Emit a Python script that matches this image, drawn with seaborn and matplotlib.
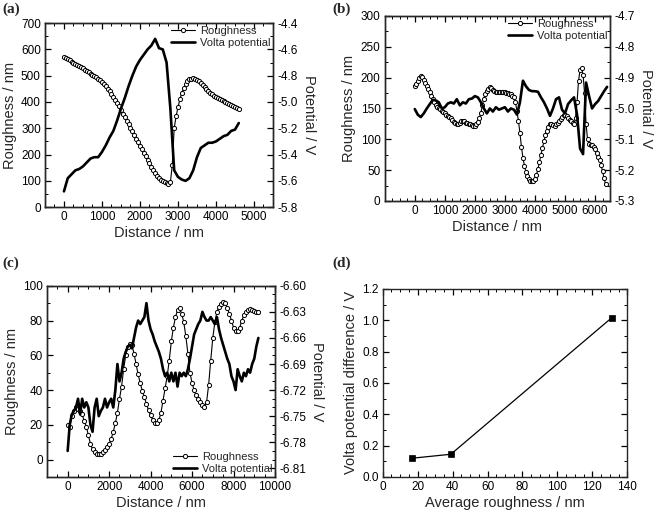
import numpy as np
import pandas as pd
import seaborn as sns
import matplotlib.pyplot as plt
from matplotlib.lines import Line2D
from matplotlib.ticker import MultipleLocator, FormatStrFormatter

# ---- (a) roughness every 50 nm, Volta potential every 100 nm
rough_a = [570, 566, 562, 558, 554, 550, 546, 541, 537, 532,
           528, 523, 518, 513, 508, 504, 499, 494, 488, 482,
           475, 468, 460, 451, 441, 431, 420, 408, 396, 383,
           369, 356, 342, 329, 315, 302, 288, 275, 261, 248,
           234, 221, 207, 194, 180, 167, 154, 141, 130, 120,
           112, 105, 99, 94, 90, 88, 94,
           160, 300, 345, 380, 410, 433, 452, 467, 478, 486,
           489, 490, 488, 484, 478, 471, 464, 456, 448, 441,
           435, 429, 424, 419, 414, 410, 406, 402, 399, 396,
           393, 390, 386, 382, 378, 374]
volta_a = [-5.68, -5.58, -5.55, -5.52, -5.51, -5.49, -5.46, -5.43, -5.42, -5.42,
           -5.38, -5.33, -5.27, -5.22, -5.14, -5.05, -4.97, -4.88, -4.80, -4.73,
           -4.68, -4.64, -4.60, -4.57, -4.52, -4.59, -4.60, -4.70, -5.05, -5.52,
           -5.57, -5.59, -5.60, -5.58, -5.52, -5.42, -5.35, -5.33, -5.31, -5.31,
           -5.30, -5.28, -5.26, -5.25, -5.22, -5.21, -5.16]

# ---- (b)
rough_b = [186, 190, 195, 200, 203, 201, 196, 191, 186, 181,
           176, 171, 166, 160, 156, 153, 151, 149, 146, 144,
           142, 140, 138, 136, 134, 131, 128, 126, 125, 125,
           127, 129, 130, 129, 127, 126, 125, 124, 123, 122,
           122, 124, 128, 134, 143, 155, 166, 174, 179, 182,
           184, 183, 180, 178, 177, 177, 177, 176, 176, 177,
           176, 175, 175, 174, 173, 171, 168, 160, 146, 130,
           110, 88, 70, 57, 47, 40, 35, 33, 32, 33,
           36, 42, 52, 63, 75, 86, 97, 107, 114, 120,
           124, 125, 123, 122, 124, 127, 130, 133, 136, 139,
           140, 138, 135, 132, 129, 126, 124, 135, 160, 195,
           212, 216, 205, 175, 125, 100, 92, 91, 90, 88,
           84, 78, 72, 66, 58, 48, 37, 27]
volta_b = [-5.002, -5.020, -5.028, -5.016, -5.000, -4.986, -4.972, -4.974, -4.980, -5.000,
           -4.996, -4.984, -4.980, -4.984, -4.970, -4.990, -4.980, -4.984, -4.970, -4.968,
           -4.960, -4.964, -4.980, -5.000, -5.016, -5.000, -5.010, -4.996, -5.004, -5.000,
           -4.996, -5.010, -5.000, -5.004, -5.020, -4.980, -4.910, -4.928, -4.940, -4.944,
           -4.944, -4.946, -4.964, -4.980, -5.000, -5.024, -5.000, -4.970, -4.964, -5.004,
           -5.016, -4.986, -4.974, -4.964, -5.020, -5.130, -5.148, -4.916, -4.960, -5.000,
           -4.986, -4.976, -4.960, -4.944, -4.930]

# ---- (c) both every 100 nm
rough_c = [20, 19, 25, 28, 30, 29, 28, 26, 22, 19,
           14, 9, 6, 4.5, 3.5, 3, 3.5, 4.5, 5.5, 7,
           9, 12, 16, 21, 27, 35, 42, 52, 60, 65,
           66.5, 66, 61, 55, 49, 44, 39.5, 36, 32, 28.5,
           25.5, 23, 21, 21, 22.5, 27, 34, 41, 48, 57,
           68, 76, 82, 86, 87, 84, 79, 71, 61, 50,
           44, 40, 37, 35, 33, 31.5, 30.5, 33, 43, 57,
           70, 79, 85, 88, 89.5, 90.5, 90, 87, 84, 80,
           76, 74, 74, 76, 80, 83, 85, 86, 86.5, 86,
           85.5, 85, 85]
volta_c = [-6.790, -6.760, -6.748, -6.744, -6.740, -6.730, -6.748, -6.730, -6.740, -6.734,
           -6.740, -6.760, -6.768, -6.740, -6.730, -6.750, -6.744, -6.740, -6.730, -6.740,
           -6.734, -6.730, -6.740, -6.720, -6.690, -6.710, -6.700, -6.684, -6.676, -6.670,
           -6.668, -6.672, -6.660, -6.648, -6.640, -6.644, -6.640, -6.636, -6.620, -6.640,
           -6.650, -6.656, -6.664, -6.670, -6.676, -6.684, -6.696, -6.704, -6.700, -6.710,
           -6.700, -6.710, -6.700, -6.716, -6.700, -6.704, -6.700, -6.704, -6.696, -6.684,
           -6.670, -6.656, -6.650, -6.644, -6.640, -6.630, -6.636, -6.640, -6.640, -6.636,
           -6.640, -6.644, -6.636, -6.650, -6.660, -6.668, -6.676, -6.684, -6.690, -6.704,
           -6.710, -6.720, -6.696, -6.704, -6.710, -6.700, -6.704, -6.696, -6.700, -6.690,
           -6.684, -6.670, -6.660]

# ---- (d)
avg_rough = [17, 39, 131]
volta_diff = [0.12, 0.145, 1.015]

sns.set_theme(style="ticks")
plt.rcParams['font.family'] = ['Liberation Sans', 'DejaVu Sans']
plt.rcParams['axes.unicode_minus'] = False
plt.rcParams['axes.linewidth'] = 1.0

fig = plt.figure(figsize=(6.61, 5.14), dpi=100)

LAB = 10.5
TICK = 8.5
MS = 3.0


def rough_line(ax, x, y):
    sns.lineplot(x=x, y=y, ax=ax, sort=False, color='black', linewidth=0.8,
                 marker='o', markersize=MS, markerfacecolor='white',
                 markeredgecolor='black', markeredgewidth=0.7)


def volta_line(ax, x, y):
    sns.lineplot(x=x, y=y, ax=ax, sort=False, color='black', linewidth=1.9)


def ticks(ax, right=False, top=True):
    ax.tick_params(which='both', direction='in', top=top, right=right,
                   labelsize=TICK, pad=3, colors='black')
    ax.tick_params(which='major', length=4, width=0.9)
    ax.tick_params(which='minor', length=2, width=0.7)


def legend(ax, loc):
    handles = [Line2D([], [], color='black', lw=0.8, marker='o', ms=MS,
                      mfc='white', mec='black', mew=0.7),
               Line2D([], [], color='black', lw=1.9)]
    ax.legend(handles, ['Roughness', 'Volta potential'], loc=loc, frameon=False,
              fontsize=8, handlelength=2.2, handletextpad=0.4, labelspacing=0.2,
              borderaxespad=0.15, borderpad=0.1, numpoints=1)


def panel(rect, rough, rstep, volta, vstep, xlim, xticks, xmin,
          ylim, ymaj, ymin, vlim, vmaj, vmin, vfmt, legloc):
    ax = fig.add_axes(rect)
    tw = ax.twinx()
    rough_line(ax, np.arange(len(rough)) * rstep, rough)
    volta_line(tw, np.arange(len(volta)) * vstep, volta)
    ax.set_xticks(xticks)
    ax.xaxis.set_minor_locator(MultipleLocator(xmin))
    ax.set_xlim(*xlim)
    ax.set_ylim(*ylim)
    tw.set_ylim(*vlim)
    ax.yaxis.set_major_locator(MultipleLocator(ymaj))
    ax.yaxis.set_minor_locator(MultipleLocator(ymin))
    tw.yaxis.set_major_locator(MultipleLocator(vmaj))
    tw.yaxis.set_minor_locator(MultipleLocator(vmin))
    tw.yaxis.set_major_formatter(FormatStrFormatter(vfmt))
    ticks(ax)
    ticks(tw, right=True, top=False)
    ax.set_xlabel('Distance / nm', fontsize=LAB, labelpad=2)
    ax.set_ylabel('Roughness / nm', fontsize=LAB, labelpad=3)
    tw.set_ylabel('Potential / V', fontsize=LAB, rotation=270, labelpad=13)
    legend(tw, legloc)
    return ax, tw


panel([0.068, 0.597, 0.345, 0.358], rough_a, 50, volta_a, 100,
      (-500, 5500), list(range(0, 5001, 1000)), 250, (0, 700), 100, 50,
      (-5.8, -4.4), 0.2, 0.1, '%.1f', 'upper right')

panel([0.582, 0.609, 0.341, 0.360], rough_b, 50, volta_b, 100,
      (-1000, 6500), list(range(0, 6001, 1000)), 250, (0, 300), 50, 25,
      (-5.3, -4.7), 0.1, 0.05, '%.1f', 'upper right')

panel([0.071, 0.072, 0.345, 0.372], rough_c, 100, volta_c, 100,
      (-1000, 10000), list(range(0, 10001, 2000)), 500, (-10, 100), 20, 10,
      (-6.82, -6.60), 0.03, 0.01, '%.2f', 'lower right')

axd = fig.add_axes([0.579, 0.072, 0.370, 0.366])
dfd = pd.DataFrame({'rough': avg_rough, 'diff': volta_diff})
sns.lineplot(data=dfd, x='rough', y='diff', ax=axd, sort=False, color='black',
             linewidth=0.9, marker='s', markersize=4, markerfacecolor='black',
             markeredgecolor='black', markeredgewidth=0.5)
axd.set_xlim(0, 140)
axd.set_ylim(0, 1.2)
axd.xaxis.set_major_locator(MultipleLocator(20))
axd.xaxis.set_minor_locator(MultipleLocator(5))
axd.yaxis.set_major_locator(MultipleLocator(0.2))
axd.yaxis.set_minor_locator(MultipleLocator(0.1))
axd.yaxis.set_major_formatter(FormatStrFormatter('%.1f'))
ticks(axd, right=True, top=True)
axd.set_xlabel('Average roughness / nm', fontsize=LAB, labelpad=2)
axd.set_ylabel('Volta potential difference / V', fontsize=LAB, labelpad=3)

serif = ['Liberation Serif', 'DejaVu Serif']
for x, y, t in [(0.004, 0.995, '(a)'), (0.503, 0.996, '(b)'),
                (0.004, 0.500, '(c)'), (0.503, 0.500, '(d)')]:
    fig.text(x, y, t, fontsize=11, fontweight='bold', family=serif, va='top', ha='left')

fig.savefig('out.png', dpi=100)
